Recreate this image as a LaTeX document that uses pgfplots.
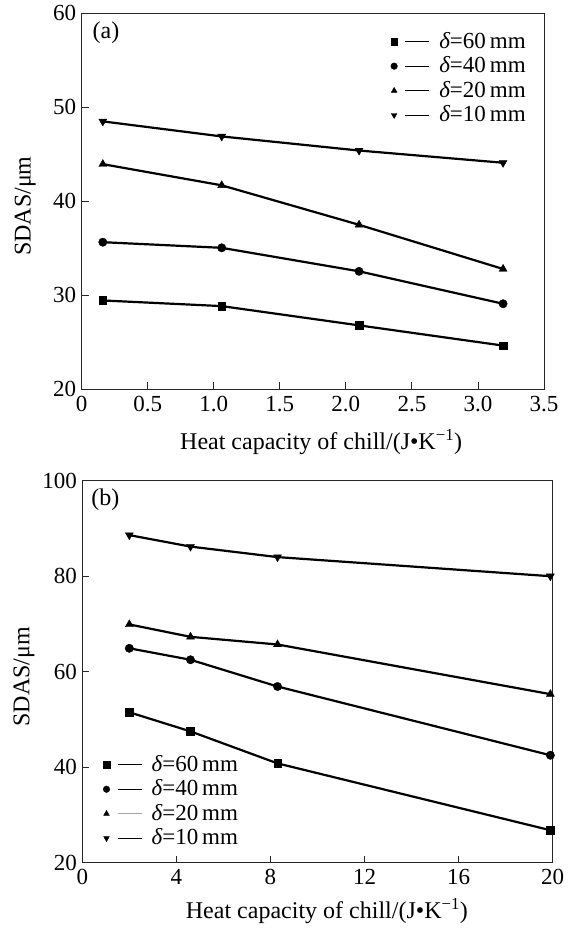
\documentclass[border=0pt]{standalone}
\usepackage{fontspec}
\setmainfont{Liberation Serif}
\usepackage{pgfplots}
\pgfplotsset{compat=1.18}
\pgfplotsset{
  myaxis/.style={
    scale only axis,
    axis line style={black!85, line width=1pt},
    tick style={black!85, line width=0.9pt},
    tick align=inside,
    xtick pos=lower, ytick pos=left,
    major tick length=7pt,
    minor tick num=0,
    tick label style={font=\fontsize{23}{23}\selectfont},
    xticklabel style={yshift=-3pt},
    yticklabel style={xshift=-2pt},
    label style={font=\fontsize{24}{24}\selectfont},
    /pgf/number format/assume math mode=true,
    every axis plot/.append style={black, line width=2.2pt},
    legend cell align=left,
    legend style={draw=none, fill=none, inner sep=0pt, row sep=3.5pt,
      font=\fontsize{23}{23}\selectfont,
      nodes={inner sep=1pt, text height=16pt, text depth=3pt}},
    legend image code/.code={
      \draw[##1, /tikz/only marks, mark size=3.3pt] plot coordinates {(0pt,0pt)};
      \draw[##1, mark=none, line width=1.2pt] (11pt,0pt) -- (35pt,0pt);
      \path (43pt,0pt);
    },
  },
  grayleg/.style={
    legend image code/.code={
      \draw[##1, /tikz/only marks, mark size=3.3pt] plot coordinates {(0pt,0pt)};
      \draw[##1, mark=none, line width=1.2pt, black!35] (11pt,0pt) -- (35pt,0pt);
      \path (43pt,0pt);
    },
  },
  sq/.style={mark=square*, mark size=3.8pt, mark options={solid, line width=0.4pt}},
  ci/.style={mark=*, mark size=4.2pt, mark options={solid, line width=0.4pt}},
  tu/.style={mark=triangle*, mark size=4.6pt, mark options={solid, line width=0.4pt}},
  td/.style={mark=triangle*, mark size=4.6pt, mark options={solid, rotate=180, line width=0.4pt}},
}
\begin{document}
\begin{tikzpicture}[x=1pt,y=1pt]
\useasboundingbox (0,0) rectangle (569,931);
% ---------------- (a)
\begin{axis}[myaxis,
  at={(81.7pt,541.7pt)}, anchor=south west,
  width=462.3pt, height=376pt,
  xmin=0, xmax=3.5, ymin=20, ymax=60,
  xtick={0,0.5,1,1.5,2,2.5,3,3.5},
  xticklabels={0,0.5,1.0,1.5,2.0,2.5,3.0,3.5},
  ytick={20,30,40,50,60},
  xlabel={Heat capacity of chill/(J•K\textsuperscript{−1})},
  ylabel={SDAS/μm},
  xlabel style={at={(axis description cs:0.518,-0.14)}, anchor=center},
  ylabel style={at={(axis description cs:-0.122,0.487)}, anchor=center},
  legend style={at={(axis description cs:0.963,0.953)}, anchor=north east},
]
\addplot[sq] coordinates {(0.16,29.45) (1.06,28.85) (2.1,26.8) (3.19,24.65)};
\addlegendentry{{\itshape δ}=60\kern4pt mm}
\addplot[ci] coordinates {(0.16,35.65) (1.06,35.05) (2.1,32.55) (3.19,29.1)};
\addlegendentry{{\itshape δ}=40\kern4pt mm}
\addplot[tu] coordinates {(0.16,43.95) (1.06,41.7) (2.1,37.5) (3.19,32.8)};
\addlegendentry{{\itshape δ}=20\kern4pt mm}
\addplot[td] coordinates {(0.16,48.5) (1.06,46.9) (2.1,45.4) (3.19,44.1)};
\addlegendentry{{\itshape δ}=10\kern4pt mm}
\node[anchor=west, font=\fontsize{24}{24}\selectfont] at (axis description cs:0.016,0.948) {(a)};
\end{axis}
% ---------------- (b)
\begin{axis}[myaxis,
  at={(82.3pt,68.3pt)}, anchor=south west,
  width=470.4pt, height=382pt,
  xmin=0, xmax=20, ymin=20, ymax=100,
  xtick={0,4,8,12,16,20},
  ytick={20,40,60,80,100},
  xlabel={Heat capacity of chill/(J•K\textsuperscript{−1})},
  ylabel={SDAS/μm},
  xlabel style={at={(axis description cs:0.52,-0.127)}, anchor=center},
  ylabel style={at={(axis description cs:-0.124,0.487)}, anchor=center},
  legend style={at={(axis description cs:0.044,0.036)}, anchor=south west},
]
\addplot[sq] coordinates {(2.0,51.5) (4.6,47.5) (8.3,40.8) (19.9,26.8)};
\addlegendentry{{\itshape δ}=60\kern4pt mm}
\addplot[ci] coordinates {(2.0,64.9) (4.6,62.5) (8.3,56.9) (19.9,42.5)};
\addlegendentry{{\itshape δ}=40\kern4pt mm}
\addplot[tu, grayleg] coordinates {(2.0,69.9) (4.6,67.3) (8.3,65.7) (19.9,55.3)};
\addlegendentry{{\itshape δ}=20\kern4pt mm}
\addplot[td] coordinates {(2.0,88.6) (4.6,86.2) (8.3,84.0) (19.9,80.0)};
\addlegendentry{{\itshape δ}=10\kern4pt mm}
\node[anchor=west, font=\fontsize{24}{24}\selectfont] at (axis description cs:0.012,0.949) {(b)};
\end{axis}
\end{tikzpicture}
\end{document}
